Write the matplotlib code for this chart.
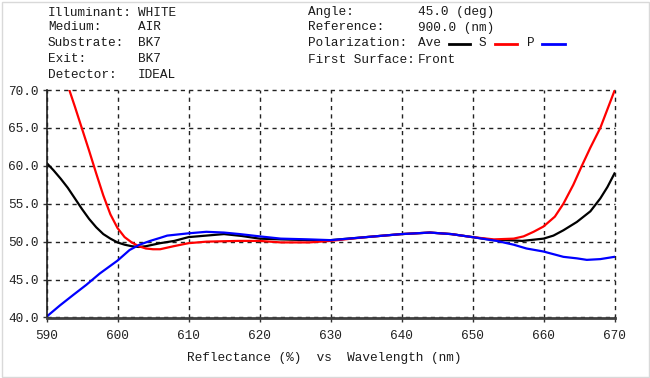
import matplotlib
matplotlib.use("Agg")
import matplotlib.pyplot as plt
from matplotlib.lines import Line2D
from matplotlib.patches import Rectangle

# ---- data ----
wl_ave = [590, 591, 592, 593, 594, 595, 596, 597, 598, 599, 600, 601, 602, 603, 604,
          605, 606, 608, 610, 612.5, 615, 617.5, 620, 623, 627, 630, 635, 640, 644,
          647, 650, 653, 655, 657, 659, 660, 661.4, 662.8, 664.7, 666.6, 668, 669, 670]
r_ave = [60.4, 59.4, 58.3, 57.1, 55.7, 54.3, 53.0, 51.9, 51.0, 50.4, 49.9, 49.6, 49.4,
         49.3, 49.4, 49.6, 49.8, 50.1, 50.6, 50.8, 51.0, 50.75, 50.4, 50.3, 50.2, 50.2,
         50.6, 51.0, 51.2, 51.0, 50.6, 50.2, 50.2, 50.1, 50.3, 50.4, 50.8, 51.5, 52.6,
         54.0, 55.7, 57.2, 59.0]

wl_s = [593, 594, 595, 596, 597, 598, 599, 600, 601, 602, 603, 604, 605, 606,
        607.9, 610, 612.5, 617, 620, 623, 627, 630, 635, 640, 644, 647, 650, 653,
        655.8, 657.2, 658.6, 660, 661.6, 662.8, 664.2, 665.4, 666.6, 668, 670]
r_s = [70.6, 67.8, 64.9, 62.0, 59.0, 56.1, 53.6, 51.8, 50.6, 49.9, 49.4, 49.1, 49.0, 49.0,
       49.4, 49.8, 50.0, 50.1, 50.1, 49.9, 49.9, 50.1, 50.6, 51.0, 51.2, 51.0, 50.6,
       50.3, 50.4, 50.7, 51.3, 52.0, 53.3, 55.0, 57.5, 60.0, 62.4, 65.0, 69.9]

wl_p = [590, 591.9, 593.8, 595.6, 597.5, 600, 601.7, 603.1, 604.6, 606, 607, 610, 612.5,
        615, 617.2, 620, 623, 627, 630, 635, 640, 644, 647, 650, 653.4, 655.8, 657.6,
        660, 662.8, 664.7, 666.1, 668, 670]
r_p = [40.1, 41.6, 43.0, 44.3, 45.8, 47.5, 48.9, 49.6, 50.1, 50.5, 50.8, 51.1, 51.3,
       51.2, 51.0, 50.7, 50.4, 50.3, 50.2, 50.6, 51.0, 51.2, 51.0, 50.6, 50.1, 49.6,
       49.1, 48.7, 48.0, 47.8, 47.6, 47.7, 48.0]

x_ticks = [590, 600, 610, 620, 630, 640, 650, 660, 670]
y_ticks = [40, 45, 50, 55, 60, 65, 70]
y_tick_labels = ["40.0", "45.0", "50.0", "55.0", "60.0", "65.0", "70.0"]

header_left = [("Illuminant:", "WHITE"), ("Medium:", "AIR"), ("Substrate:", "BK7"),
               ("Exit:", "BK7"), ("Detector:", "IDEAL")]
header_right = [("Angle:", "45.0 (deg)"), ("Reference:", "900.0 (nm)"),
                ("Polarization:", "Ave"), ("First Surface:", "Front")]
xlabel = "Reflectance (%)  vs  Wavelength (nm)"

# ---- figure ----
W, H = 650, 378
fig = plt.figure(figsize=(6.5, 3.78), dpi=100)
FONT = "Liberation Mono"
TXT = "#1a1a1a"
FS = 9.2

def px(x, y):
    return x / W, 1 - y / H

fig.patches.append(Rectangle((1.5 / W, 1.5 / H), (W - 3) / W, (H - 3) / H,
                             transform=fig.transFigure, fill=False,
                             edgecolor="#d9d9d9", linewidth=1))

ax = fig.add_axes([46.5 / W, (H - 317.5) / H, 568 / W, 227.5 / H])
ax.plot(wl_ave, r_ave, color="black", lw=1.6)
ax.plot(wl_s, r_s, color="#ff0000", lw=1.6)
ax.plot(wl_p, r_p, color="#0000ff", lw=1.6)

ax.set_xlim(590, 670)
ax.set_ylim(40, 70)
ax.set_xticks(x_ticks)
ax.set_xticklabels([str(t) for t in x_ticks], fontfamily=FONT, fontsize=FS, color="#222222")
ax.set_yticks(y_ticks)
ax.set_yticklabels(y_tick_labels, fontfamily=FONT, fontsize=FS, color="#222222")
ax.tick_params(axis="x", length=3, width=1, pad=6, color="#333333")
ax.tick_params(axis="y", length=3, width=1, pad=2.5, color="#333333")

ax.grid(True, color="#222222", linestyle=(0, (3, 3)), linewidth=1)
for gl in ax.get_xgridlines() + ax.get_ygridlines():
    gl.set_clip_on(False)
ax.set_axisbelow(True)
for s in ("top", "right"):
    ax.spines[s].set_visible(False)
ax.spines["left"].set_color("#202020")
ax.spines["left"].set_linewidth(1.2)
ax.spines["bottom"].set_color("#404040")
ax.spines["bottom"].set_linewidth(2)
ax.spines["left"].set_zorder(5)
ax.spines["bottom"].set_zorder(5)

# header texts
rows_y = [12.5, 27.5, 43, 59.5, 75]
for (k, v), yy in zip(header_left, rows_y):
    fig.text(*px(48, yy), k, fontfamily=FONT, fontsize=FS, color=TXT, va="center", ha="left")
    fig.text(*px(138, yy), v, fontfamily=FONT, fontsize=FS, color=TXT, va="center", ha="left")
rows_y2 = [12, 27.5, 43.5, 60]
for (k, v), yy in zip(header_right, rows_y2):
    fig.text(*px(308, yy), k, fontfamily=FONT, fontsize=FS, color=TXT, va="center", ha="left")
    if k == "First Surface:":
        continue
    fig.text(*px(418, yy), v, fontfamily=FONT, fontsize=FS, color=TXT, va="center", ha="left")
fig.text(*px(418, 60), "Front", fontfamily=FONT, fontsize=FS, color=TXT, va="center", ha="left")

# polarization legend
ly = 1 - 43.5 / H
fig.lines.append(Line2D([449 / W, 470 / W], [ly, ly], transform=fig.transFigure, color="black", lw=2))
fig.text(*px(479, 43.5), "S", fontfamily=FONT, fontsize=FS, color=TXT, va="center", ha="left")
fig.lines.append(Line2D([495 / W, 517 / W], [ly, ly], transform=fig.transFigure, color="#ff0000", lw=2))
fig.text(*px(527, 43.5), "P", fontfamily=FONT, fontsize=FS, color=TXT, va="center", ha="left")
fig.lines.append(Line2D([542 / W, 565 / W], [ly, ly], transform=fig.transFigure, color="#0000ff", lw=2))

fig.text(*px(324, 358), xlabel, fontfamily=FONT, fontsize=FS, color=TXT, va="center", ha="center")

fig.savefig("out.png", dpi=100)
